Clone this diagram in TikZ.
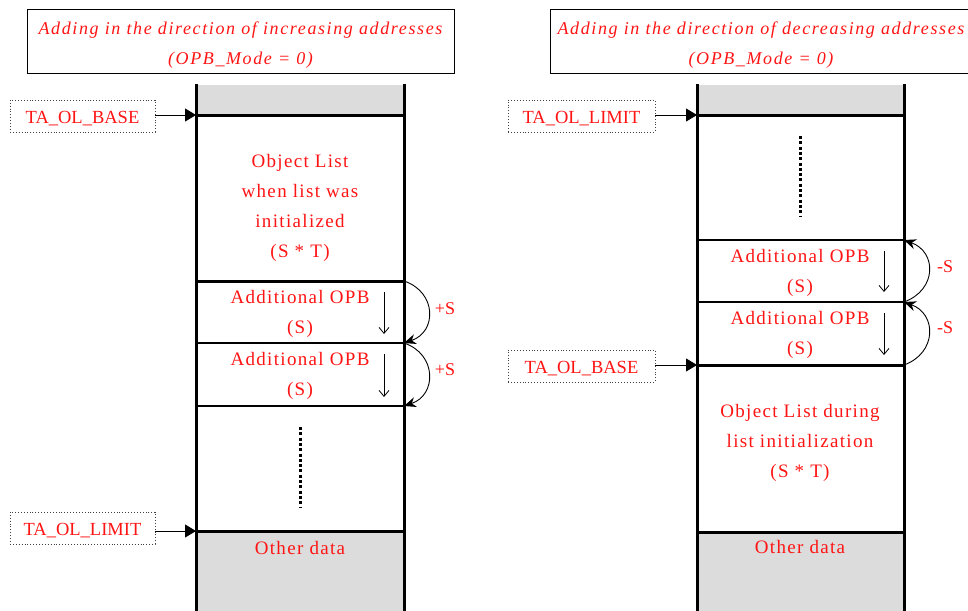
\documentclass[tikz,border=0pt]{standalone}
\usepackage{fontspec}
\setmainfont{Liberation Serif}
\newfontfamily\spacedfont{Liberation Serif}[LetterSpace=7]
\newfontfamily\titlefont{Liberation Serif}[LetterSpace=9]
\usetikzlibrary{arrows.meta}
\definecolor{areagray}{RGB}{220,220,220}
\definecolor{txtred}{RGB}{255,20,20}
\begin{document}
\begin{tikzpicture}[x=1pt,y=-1pt,
  titlebox/.style={draw, line width=1pt, inner sep=0pt, minimum height=63pt},
  titletext/.style={text=txtred, align=center, inner sep=0pt,
    font=\titlefont\itshape\fontsize{18}{30}\selectfont},
  body/.style={text=txtred, align=center, inner sep=0pt, font=\spacedfont\fontsize{19}{30}\selectfont},
  ptrbox/.style={draw=black!75, dotted, line width=0.9pt, minimum width=145pt, minimum height=32pt, inner sep=0pt,
    text height=14pt, text depth=0pt, text=txtred, font=\fontsize{18.5}{20}\selectfont},
  ptr/.style={line width=1pt, -{Triangle[length=11pt,width=13pt]}},
  heavy/.style={line width=3pt},
  thin/.style={line width=1.3pt},
  curv/.style={line width=0.9pt, -{Stealth[length=12pt,width=10pt]}},
  downarr/.style={line width=0.8pt, -{Straight Barb[length=6pt,width=10pt]}},
  vdots/.style={line width=3pt, dash pattern=on 3pt off 2.3pt},
  sign/.style={text=txtred, inner sep=0pt, font=\fontsize{18}{20}\selectfont}
]
\useasboundingbox (0,0) rectangle (968,610);
\clip (0,0) rectangle (968,610);

% ---------- left diagram ----------
\node[titlebox, minimum width=427pt] (titleL) at (240.5,41.5) {};
\node[titletext] (titleLtext) at (titleL.center) [yshift=-4pt]
  {Adding in the direction of increasing addresses\\(OPB\_Mode = 0)};

\fill[areagray] (196,85) rectangle (404,115);
\fill[areagray] (196,531) rectangle (404,612);
\coordinate (Lbase) at (196,115);
\coordinate (Lr1) at (404,281);
\coordinate (Lr2) at (404,343);
\coordinate (Lr3) at (404,406);
\coordinate (Llimit) at (196,531);
\draw[heavy] (Lbase) -- (404,115);
\draw[heavy] (196,281) -- (Lr1);
\draw[thin] (196,343) -- (Lr2);
\draw[thin] (196,406) -- (Lr3);
\draw[heavy] (Llimit) -- (404,531);
\draw[heavy] (196,84) -- (196,612);
\draw[heavy] (404,84) -- (404,612);

\node[body] (objL) at (300,208) {Object List\\when list was\\initialized\\(S * T)};
\node[body] (addL1) at (300,314) {Additional OPB\\(S)};
\node[body] (addL2) at (300,376) {Additional OPB\\(S)};
\node[body] (otherL) at (300,547.5) {Other data};
\draw[downarr] (384,292) -- (384,334);
\draw[downarr] (384,354) -- (384,397);
\draw[vdots] (300,427) -- (300,507);

\draw[curv] (Lr1) .. controls (437,292) and (437,332) .. (Lr2);
\draw[curv] (Lr2) .. controls (437,354) and (437,395) .. (Lr3);
\node[sign] (pS1) at (445,309) {+S};
\node[sign] (pS2) at (445,370) {+S};

\node[ptrbox] (baseL) at (82.5,116) {TA\_OL\_BASE};
\node[ptrbox] (limitL) at (82.5,528) {TA\_OL\_LIMIT};
\draw[ptr] (baseL.east |- Lbase) -- (Lbase);
\draw[ptr] (limitL.east |- Llimit) -- (Llimit);

% ---------- right diagram ----------
\node[titlebox, minimum width=422pt] (titleR) at (761,41.5) {};
\node[titletext] (titleRtext) at (titleR.center) [yshift=-4pt]
  {Adding in the direction of decreasing addresses\\(OPB\_Mode = 0)};

\fill[areagray] (697,85) rectangle (904,115);
\fill[areagray] (697,532) rectangle (904,612);
\coordinate (Rlimit) at (697,115);
\coordinate (Rr1) at (904,240);
\coordinate (Rr2) at (904,302);
\coordinate (Rr3) at (904,365);
\coordinate (Rbase) at (697,365);
\draw[heavy] (Rlimit) -- (904,115);
\draw[thin] (697,240) -- (Rr1);
\draw[thin] (697,302) -- (Rr2);
\draw[heavy] (Rbase) -- (Rr3);
\draw[heavy] (697,532) -- (904,532);
\draw[heavy] (697,84) -- (697,612);
\draw[heavy] (904,84) -- (904,612);

\draw[vdots] (800,136) -- (800,216);
\node[body] (addR1) at (800,273) {Additional OPB\\(S)};
\node[body] (addR2) at (800,335) {Additional OPB\\(S)};
\node[body] (objR) at (800,443) {Object List during\\list initialization\\(S * T)};
\node[body] (otherR) at (800,547) {Other data};
\draw[downarr] (884,251) -- (884,292);
\draw[downarr] (884,313) -- (884,355);

\draw[curv] (Rr2) .. controls (937,290) and (937,252) .. (Rr1);
\draw[curv] (Rr3) .. controls (937,353) and (937,314) .. (Rr2);
\node[sign] (mS1) at (945,267) {-S};
\node[sign] (mS2) at (945,328) {-S};

\node[ptrbox, minimum width=147pt] (limitR) at (581.5,116) {TA\_OL\_LIMIT};
\node[ptrbox, minimum width=147pt] (baseR) at (581.5,366) {TA\_OL\_BASE};
\draw[ptr] (limitR.east |- Rlimit) -- (Rlimit);
\draw[ptr] (baseR.east |- Rbase) -- (Rbase);
\end{tikzpicture}
\end{document}
